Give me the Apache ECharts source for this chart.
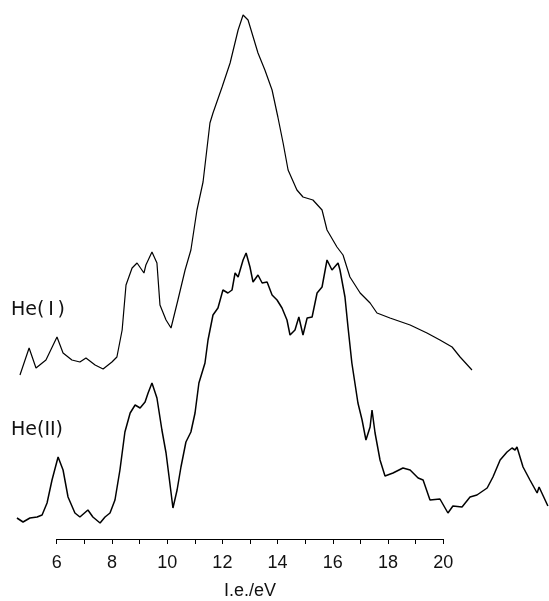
<!DOCTYPE html>
<html>
<head>
<meta charset="utf-8">
<script src="https://cdn.jsdelivr.net/npm/echarts@6/dist/echarts.min.js"></script>
<style>
html,body{margin:0;padding:0;background:#fff;}
#c{width:549px;height:601px;}
</style>
</head>
<body>
<div id="c"></div>
<script>
// He(I) spectrum: ionization energy (eV) and relative intensity (arb. units)
const heIEnergy = [4.67,5.00,5.25,5.61,6.01,6.23,6.55,6.84,7.06,7.39,7.68,8.00,8.18,8.37,8.51,8.73,8.91,9.16,9.23,9.45,9.63,9.74,9.96,10.14,10.39,10.65,10.86,11.08,11.30,11.55,11.66,11.99,12.28,12.57,12.75,12.93,13.29,13.54,13.80,14.01,14.20,14.38,14.70,14.92,15.28,15.61,15.79,16.15,16.37,16.62,16.99,17.35,17.60,18.07,18.80,19.41,19.88,20.32,20.61,21.04];
const heIIntensity = [226,253,233,241,264,248,241,239,243,236,232,239,244,271,316,333,338,328,336,349,338,296,281,273,301,331,351,391,419,478,488,514,538,571,586,581,548,531,511,484,458,431,411,404,401,391,371,354,346,324,308,298,288,283,276,268,261,254,244,231];

// He(II) spectrum
const heIIEnergy = [4.56,4.78,5.03,5.29,5.47,5.65,5.83,6.05,6.23,6.41,6.66,6.84,7.13,7.31,7.57,7.75,7.93,8.11,8.29,8.47,8.66,8.84,9.02,9.20,9.31,9.45,9.63,9.81,9.96,10.07,10.21,10.36,10.50,10.68,10.86,11.01,11.15,11.37,11.48,11.66,11.84,12.02,12.20,12.35,12.46,12.57,12.75,12.86,13.00,13.11,13.29,13.44,13.62,13.80,13.98,14.16,14.34,14.45,14.63,14.77,14.92,15.07,15.25,15.43,15.61,15.79,15.97,16.19,16.26,16.44,16.55,16.69,16.80,16.91,17.06,17.20,17.35,17.42,17.53,17.71,17.89,18.18,18.54,18.80,19.09,19.27,19.52,19.88,20.17,20.35,20.68,20.97,21.22,21.59,21.80,22.06,22.31,22.49,22.60,22.67,22.89,23.14,23.40,23.47,23.79];
const heIIIntensity = [83,79,83,84,86,98,121,144,131,104,88,84,91,84,78,84,88,101,131,169,188,196,193,199,208,218,203,171,148,124,93,111,134,159,169,188,218,238,261,286,293,311,308,311,328,324,341,348,334,319,326,318,319,306,301,293,281,266,271,284,266,283,284,308,314,341,331,338,331,304,274,238,218,198,181,161,174,191,168,141,125,128,133,131,123,121,101,102,88,95,94,104,106,113,124,141,149,153,151,154,134,121,108,114,95];

const tickValues = [6,8,10,12,14,16,18,20];
const axisTitle = 'I.e./eV';
const seriesLabels = ['He(\u2009I\u2009)', 'He(II)'];

function pairs(xs, ys){ return xs.map((x,i)=>[x, ys[i]]); }

const FONT = 'Liberation Sans';
const chart = echarts.init(document.getElementById('c'), null, {renderer:'canvas'});
chart.setOption({
  backgroundColor:'#fff',
  animation:false,
  grid:[
    {left:0, right:0, top:0, bottom:0},
    {left:56.7, right:105.7, top:300, bottom:60}
  ],
  xAxis:[
    {gridIndex:0, type:'value', min:3.946, max:23.83, show:false},
    {gridIndex:1, type:'value', min:6, max:20, interval:1,
     axisLine:{show:true, lineStyle:{color:'#000', width:1.2}},
     axisTick:{show:true, inside:false, length:5, lineStyle:{color:'#000', width:1}},
     splitLine:{show:false},
     axisLabel:{color:'#111', fontFamily:FONT, fontSize:18, margin:15,
       formatter:v => tickValues.indexOf(v) >= 0 ? String(v) : ''},
     name:axisTitle, nameLocation:'middle', nameGap:43,
     nameTextStyle:{color:'#111', fontFamily:FONT, fontSize:18}}
  ],
  yAxis:[
    {gridIndex:0, type:'value', min:0, max:601, show:false},
    {gridIndex:1, type:'value', min:0, max:1, show:false}
  ],
  graphic:[
    {type:'text', left:11, top:301, style:{text:seriesLabels[0], fill:'#111', font:'19px "DejaVu Sans"'}},
    {type:'text', left:11, top:421, style:{text:seriesLabels[1], fill:'#111', font:'19px "DejaVu Sans"'}}
  ],
  series:[
    {type:'line', name:seriesLabels[0], xAxisIndex:0, yAxisIndex:0, data:pairs(heIEnergy, heIIntensity),
     showSymbol:false, lineStyle:{color:'#000', width:1.2}},
    {type:'line', name:seriesLabels[1], xAxisIndex:0, yAxisIndex:0, data:pairs(heIIEnergy, heIIIntensity),
     showSymbol:false, lineStyle:{color:'#000', width:1.5}}
  ]
});
</script>
</body>
</html>
